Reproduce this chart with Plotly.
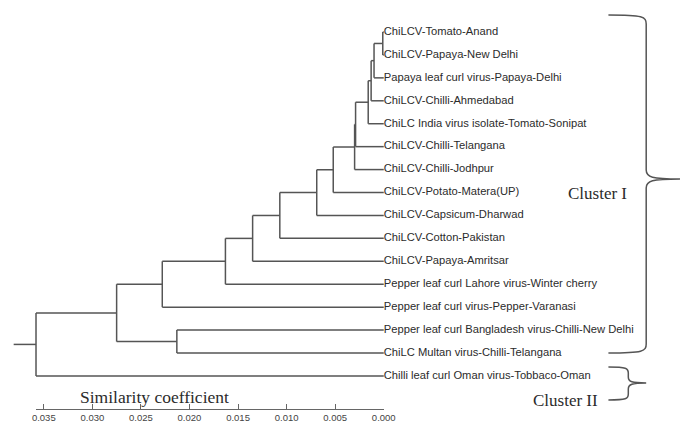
import plotly.graph_objects as go

# ---------------- data ----------------
leaves = [
    "ChiLCV-Tomato-Anand",
    "ChiLCV-Papaya-New Delhi",
    "Papaya leaf curl virus-Papaya-Delhi",
    "ChiLCV-Chilli-Ahmedabad",
    "ChiLC India virus isolate-Tomato-Sonipat",
    "ChiLCV-Chilli-Telangana",
    "ChiLCV-Chilli-Jodhpur",
    "ChiLCV-Potato-Matera(UP)",
    "ChiLCV-Capsicum-Dharwad",
    "ChiLCV-Cotton-Pakistan",
    "ChiLCV-Papaya-Amritsar",
    "Pepper leaf curl Lahore virus-Winter cherry",
    "Pepper leaf curl virus-Pepper-Varanasi",
    "Pepper leaf curl Bangladesh virus-Chilli-New Delhi",
    "ChiLC Multan virus-Chilli-Telangana",
    "Chilli leaf curl Oman virus-Tobbaco-Oman",
]
# merges: (child a, child b, height); new node ids start at len(leaves)
merge_a = [0, 16, 17, 18, 19, 20, 21, 22, 23, 24, 25, 26, 13, 27, 29]
merge_b = [1, 2, 3, 4, 5, 6, 7, 8, 9, 10, 11, 12, 14, 28, 15]
merge_h = [0.0001, 0.0010, 0.0013, 0.0016, 0.0029, 0.0030, 0.0052, 0.0069,
           0.0107, 0.0135, 0.0163, 0.0228, 0.0213, 0.0275, 0.0358]
root_stem = 0.0381
scale_ticks = [0.035, 0.030, 0.025, 0.020, 0.015, 0.010, 0.005, 0.000]
scale_start = 0.0358
axis_title = "Similarity coefficient"
cluster_labels = ["Cluster I", "Cluster II"]

# ---------------- geometry (reference pixel frame 680x425) ----------------
W, H = 680, 425
FIG_W = 692          # rendered width that ends up photographed as 680 px
zero_px = 382.0
ppu = 9771.0
top_px = 32.0
row_px = 22.93
line_col = "#555555"
text_col = "#2b2b2b"

node_y = {i: float(i) for i in range(len(leaves))}
node_h = {i: 0.0 for i in range(len(leaves))}
xs, ys = [], []
for k, (a, b, h) in enumerate(zip(merge_a, merge_b, merge_h)):
    nid = len(leaves) + k
    ya, yb = node_y[a], node_y[b]
    xs += [h, h, None]
    ys += [ya, yb, None]
    xs += [h, node_h[a], None, h, node_h[b], None]
    ys += [ya, ya, None, yb, yb, None]
    node_y[nid] = (ya + yb) / 2
    node_h[nid] = h
root = len(leaves) + len(merge_h) - 1
xs += [root_stem, node_h[root], None]
ys += [node_y[root], node_y[root], None]

fig = go.Figure()
fig.add_trace(go.Scatter(x=xs, y=ys, mode="lines",
                         line=dict(color=line_col, width=1.5, simplify=False),
                         hoverinfo="skip", showlegend=False))
fig.add_trace(go.Scatter(x=[0] * len(leaves), y=list(range(len(leaves))),
                         mode="text", text=leaves, textposition="middle right",
                         textfont=dict(family="Liberation Sans, Arial", size=11.2, color=text_col),
                         hoverinfo="skip", showlegend=False, cliponaxis=False))
# invisible trace so the scale-bar axis is drawn
fig.add_trace(go.Scatter(x=[0], y=[0], xaxis="x2", yaxis="y", mode="markers",
                         marker=dict(opacity=0), hoverinfo="skip", showlegend=False))

x_left = zero_px / ppu
x_right = (zero_px - W) / ppu
y_bottom = (H - top_px) / row_px
y_top = -top_px / row_px
bar_y_px = 409.0

fig.update_layout(
    width=FIG_W, height=H, autosize=False,
    margin=dict(l=0, r=0, t=0, b=0),
    paper_bgcolor="white", plot_bgcolor="rgba(0,0,0,0)",
    xaxis=dict(range=[x_left, x_right], visible=False, domain=[0, 1]),
    yaxis=dict(range=[y_bottom, y_top], visible=False, domain=[0, 1]),
    xaxis2=dict(
        domain=[(zero_px - scale_start * ppu) / W, zero_px / W],
        range=[scale_start, 0],
        anchor="free", position=1 - bar_y_px / H,
        showline=True, linecolor="#666666", linewidth=1,
        ticks="inside", ticklen=5, tickwidth=1, tickcolor="#666666",
        tickvals=scale_ticks, ticktext=[f"{v:.3f}" for v in scale_ticks],
        tickfont=dict(family="Liberation Sans, Arial", size=9.5, color="#444444"),
        showgrid=False, zeroline=False, fixedrange=True,
    ),
)

serif = "Liberation Serif, Times New Roman, serif"
def add_label(text, px, py, size=17):
    fig.add_annotation(text=text, x=px / W, y=1 - py / H, xref="paper", yref="paper",
                       showarrow=False, xanchor="center", yanchor="middle",
                       font=dict(family=serif, size=size, color=text_col))

add_label(axis_title, 151, 397, 17.5)
add_label(cluster_labels[0], 597, 193)
add_label(cluster_labels[1], 565, 400)

def P(px, py):
    return f"{px / W:.5f},{1 - py / H:.5f}"

def brace(x_open, x_spine, x_tip, y_top_, y_mid, y_bot, r):
    return (f"M {P(x_open, y_top_)} C {P(x_spine - r * 0.3, y_top_)} {P(x_spine, y_top_ + r * 0.2)} {P(x_spine, y_top_ + r)} "
            f"L {P(x_spine, y_mid - r)} C {P(x_spine, y_mid - r * 0.2)} {P(x_spine + r * 0.6, y_mid)} {P(x_tip, y_mid)} "
            f"M {P(x_tip, y_mid)} C {P(x_spine + r * 0.6, y_mid)} {P(x_spine, y_mid + r * 0.2)} {P(x_spine, y_mid + r)} "
            f"L {P(x_spine, y_bot - r)} C {P(x_spine, y_bot - r * 0.2)} {P(x_spine - r * 0.3, y_bot)} {P(x_open, y_bot)}")

for path in [brace(608, 646, 681, 15, 179, 353, 9), brace(608, 628, 646, 367, 383, 400, 6)]:
    fig.add_shape(type="path", path=path, xref="paper", yref="paper",
                  line=dict(color=line_col, width=1.5))

fig.write_html(
    "out.html",
    config={"displayModeBar": False, "responsive": False, "staticPlot": True},
    post_script="document.body.style.margin='0';document.body.style.overflow='hidden';",
)
